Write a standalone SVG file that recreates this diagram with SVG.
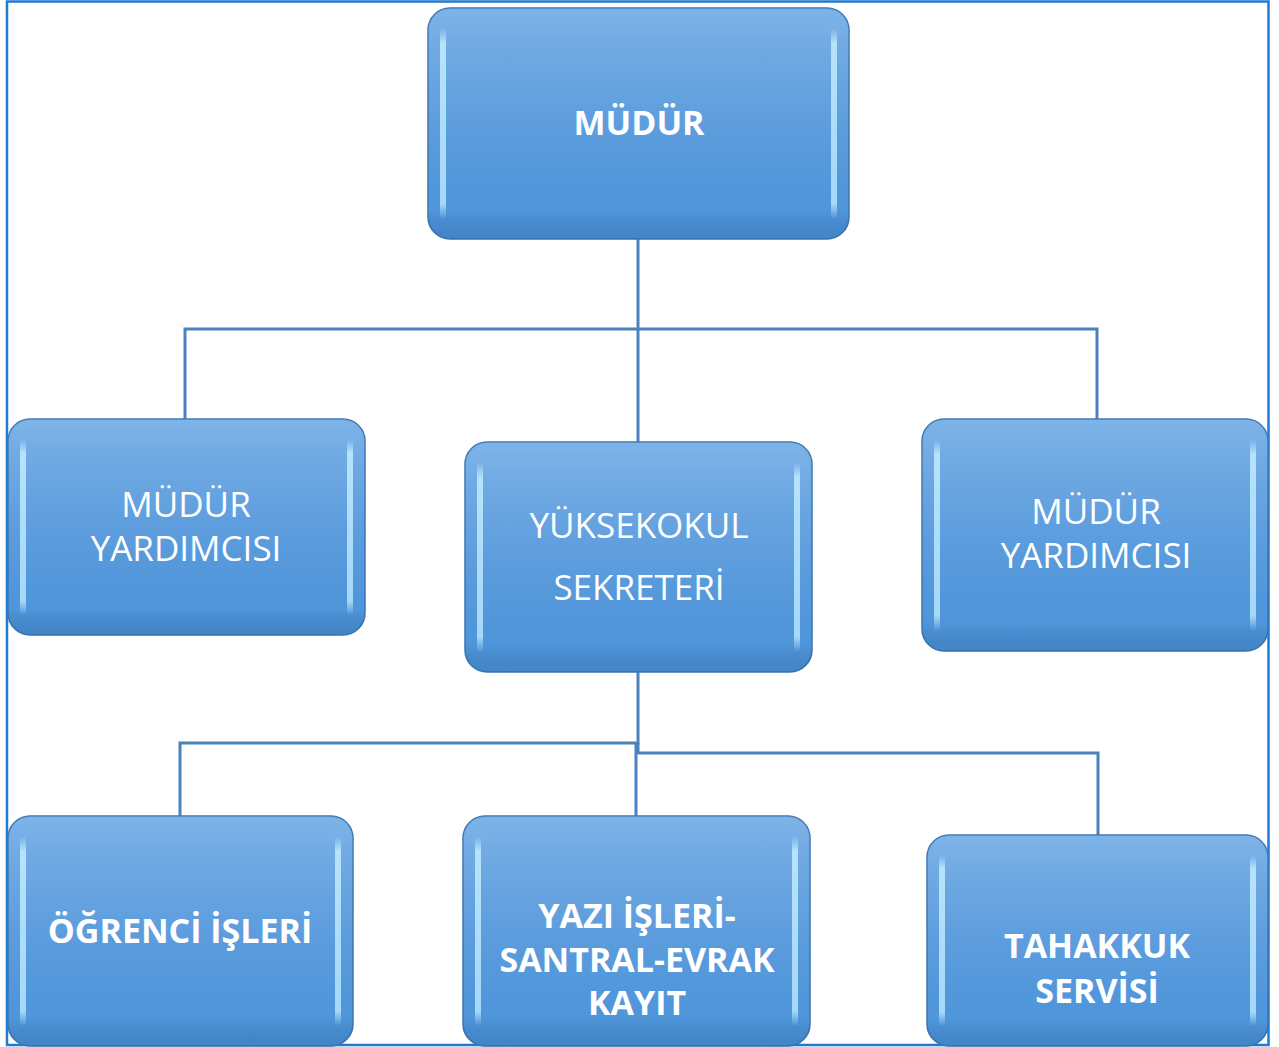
<svg xmlns="http://www.w3.org/2000/svg" width="1279" height="1047" viewBox="0 0 1279 1047">
<defs>
<linearGradient id="fillV" x1="0" y1="0" x2="0" y2="1">
<stop offset="0" stop-color="#72ade6"/>
<stop offset="0.5" stop-color="#5d9fe2"/>
<stop offset="1" stop-color="#4a92d8"/>
</linearGradient>
<linearGradient id="strip" x1="0" y1="0" x2="0" y2="1">
<stop offset="0" stop-color="#b9e6fc" stop-opacity="0"/>
<stop offset="0.08" stop-color="#b9e6fc" stop-opacity="0.95"/>
<stop offset="0.92" stop-color="#a9dcf8" stop-opacity="0.95"/>
<stop offset="1" stop-color="#a9dcf8" stop-opacity="0"/>
</linearGradient>
<linearGradient id="shade" x1="0" y1="0" x2="0" y2="1">
<stop offset="0" stop-color="#ffffff" stop-opacity="0.08"/>
<stop offset="0.88" stop-color="#000000" stop-opacity="0"/>
<stop offset="1" stop-color="#1d4f86" stop-opacity="0.18"/>
</linearGradient>
<style>
.frame{fill:none;stroke:#1e7bd1;stroke-width:2.5}
.box{fill:url(#fillV);stroke:#3d76b2;stroke-width:1.5}
.sh{fill:url(#shade)}
.st{fill:url(#strip)}
.conn{fill:none;stroke:#4c82bb;stroke-width:3}
.t{fill:#ffffff;font-family:"Open Sans","Liberation Sans",sans-serif;text-anchor:middle}
.b{font-weight:bold;font-size:34px}
.r{font-size:35px}
</style>
</defs>
<rect class="frame" x="7" y="1.5" width="1261.5" height="1043.5"/>
<g id="connectors">
<path class="conn" d="M638 239 V442"/>
<path class="conn" d="M185 419 V329 H1097 V419"/>
<path class="conn" d="M638 672 V743 H180 V816"/>
<path class="conn" d="M636 743 V816"/>
<path class="conn" d="M638 743 V753 H1098 V835"/>
</g>
<g id="node-mudur">
<rect class="box" x="428" y="8" width="421" height="231" rx="22"/>
<rect class="sh" x="428" y="8" width="421" height="231" rx="22"/>
<rect class="st" x="440" y="28" width="6" height="191" rx="3"/>
<rect class="st" x="831" y="28" width="6" height="191" rx="3"/>
<text class="t b" x="639" y="135">MÜDÜR</text>
</g>
<g id="node-mudur-yrd-1">
<rect class="box" x="8" y="419" width="357" height="216" rx="22"/>
<rect class="sh" x="8" y="419" width="357" height="216" rx="22"/>
<rect class="st" x="20" y="439" width="6" height="176" rx="3"/>
<rect class="st" x="347" y="439" width="6" height="176" rx="3"/>
<text class="t r" x="186" y="517">MÜDÜR</text>
<text class="t r" x="186" y="561">YARDIMCISI</text>
</g>
<g id="node-sekreter">
<rect class="box" x="465" y="442" width="347" height="230" rx="22"/>
<rect class="sh" x="465" y="442" width="347" height="230" rx="22"/>
<rect class="st" x="477" y="462" width="6" height="190" rx="3"/>
<rect class="st" x="794" y="462" width="6" height="190" rx="3"/>
<text class="t r" x="639" y="538">YÜKSEKOKUL</text>
<text class="t r" x="639" y="600">SEKRETERİ</text>
</g>
<g id="node-mudur-yrd-2">
<rect class="box" x="922" y="419" width="346" height="232" rx="22"/>
<rect class="sh" x="922" y="419" width="346" height="232" rx="22"/>
<rect class="st" x="934" y="439" width="6" height="192" rx="3"/>
<rect class="st" x="1250" y="439" width="6" height="192" rx="3"/>
<text class="t r" x="1096" y="524">MÜDÜR</text>
<text class="t r" x="1096" y="568">YARDIMCISI</text>
</g>
<g id="node-ogrenci">
<rect class="box" x="8" y="816" width="345" height="230" rx="22"/>
<rect class="sh" x="8" y="816" width="345" height="230" rx="22"/>
<rect class="st" x="20" y="836" width="6" height="190" rx="3"/>
<rect class="st" x="335" y="836" width="6" height="190" rx="3"/>
<text class="t b" x="180" y="943">ÖĞRENCİ İŞLERİ</text>
</g>
<g id="node-yazi">
<rect class="box" x="463" y="816" width="347" height="230" rx="22"/>
<rect class="sh" x="463" y="816" width="347" height="230" rx="22"/>
<rect class="st" x="475" y="836" width="6" height="190" rx="3"/>
<rect class="st" x="792" y="836" width="6" height="190" rx="3"/>
<text class="t b" x="637" y="928">YAZI İŞLERİ-</text>
<text class="t b" x="637" y="972">SANTRAL-EVRAK</text>
<text class="t b" x="637" y="1015">KAYIT</text>
</g>
<g id="node-tahakkuk">
<rect class="box" x="927" y="835" width="341" height="211" rx="22"/>
<rect class="sh" x="927" y="835" width="341" height="211" rx="22"/>
<rect class="st" x="939" y="855" width="6" height="171" rx="3"/>
<rect class="st" x="1250" y="855" width="6" height="171" rx="3"/>
<text class="t b" x="1097" y="958">TAHAKKUK</text>
<text class="t b" x="1097" y="1003">SERVİSİ</text>
</g>
</svg>
